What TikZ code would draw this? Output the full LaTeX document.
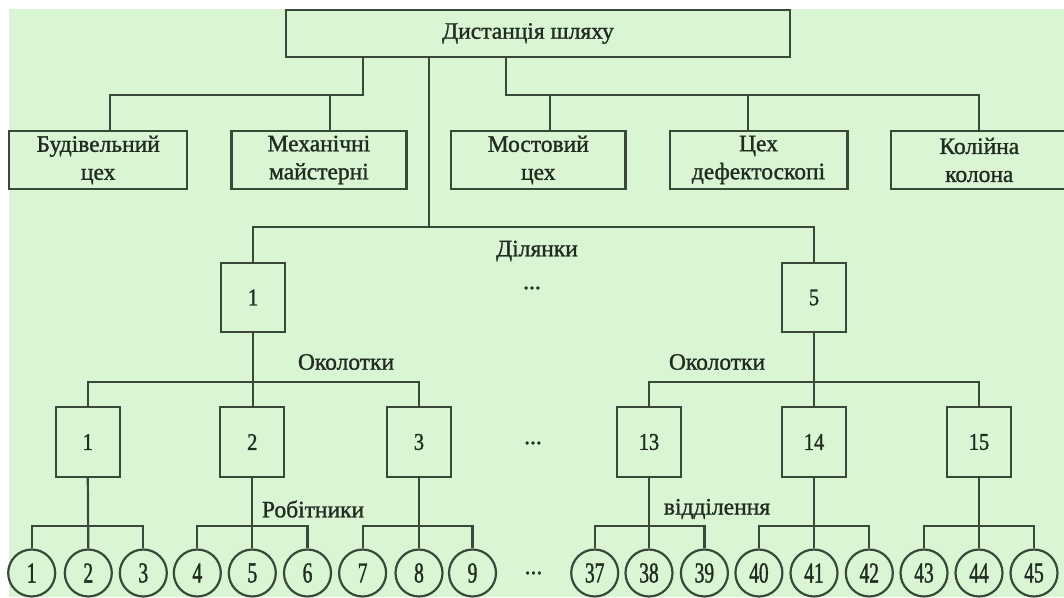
\documentclass[tikz,border=0pt]{standalone}
\usepackage{fontspec}
\setmainfont{Liberation Serif}[FakeBold=1.2]
\newfontfamily\cfont{Liberation Serif}[FakeStretch=0.67,FakeBold=1.2]
\newfontfamily\bfontn{Liberation Serif}[FakeStretch=0.85,FakeBold=1.2]
\definecolor{bg}{RGB}{217,245,212}
\definecolor{ln}{RGB}{58,72,58}
\definecolor{tx}{RGB}{32,44,32}
\tikzset{
  conn/.style={draw=ln, line width=2.2pt},
  wbox/.style={draw=ln, line width=2.2pt, rectangle, inner sep=0pt, align=center,
     text=tx, font=\fontsize{23.5}{28}\selectfont, minimum height=58pt},
  sqbox/.style={draw=ln, line width=2.2pt, rectangle, inner sep=0pt,
     text=tx, font=\bfontn\fontsize{24}{26}\selectfont, minimum width=64pt, minimum height=70pt},
  cnode/.style={draw=ln, line width=2.2pt, circle, inner sep=0pt, minimum size=47pt,
     text=tx, font=\cfont\fontsize{29}{30}\selectfont},
  lbl/.style={inner sep=0pt, text=tx, font=\fontsize{23.5}{27}\selectfont}
}
\begin{document}
\begin{tikzpicture}[x=1pt,y=-1pt]
\useasboundingbox (0,0) rectangle (1064,597);
\fill[white] (0,0) rectangle (1064,597);
\fill[bg] (9.3,9.3) rectangle (1064,597);

% top
\node[wbox, minimum width=504.5pt, minimum height=47pt] (top) at (538,33.5) {\hspace*{-20pt}Дистанція шляху};
% row 2
\node[wbox, minimum width=177.7pt] (bud) at (98.2,160) {Будівельний\\цех};
\node[wbox, minimum width=175pt] (mech) at (318.9,160) {Механічні\\майстерні};
\node[wbox, minimum width=174.3pt] (most) at (538.3,160) {Мостовий\\цех};
\node[wbox, minimum width=177.8pt] (cex) at (758.5,160) {Цех\\дефектоскопі};
\node[wbox, minimum width=177.3pt] (kol) at (979.3,160) {Колійна\\колона};

\coordinate (jL) at (362.6,95);
\coordinate (jR) at (506.2,95);
\coordinate (jC) at (428.7,227);
\draw[conn] (top.south -| jL) -- (jL) -| ([xshift=12pt]bud.north);
\draw[conn] (jL) -| ([xshift=11pt]mech.north);
\draw[conn] (top.south -| jR) -- (jR) -| ([xshift=12pt]most.north);
\draw[conn] (jR) -| ([xshift=-10.2pt]cex.north);
\draw[conn] (jR) -| (kol.north);
\draw[conn] (top.south -| jC) -- (jC);

% sections
\node[sqbox, minimum height=69pt] (d1) at (253,297.5) {1};
\node[sqbox, minimum height=69pt] (d5) at (814,297.5) {5};
\draw[conn] (jC) -| (d1.north);
\draw[conn] (jC) -| (d5.north);
\node[lbl] (lDil) at (537,251) {Ділянки};
\node[lbl] (lDots1) at (532,288) {...};

% okolotky
\node[sqbox] (o1) at (87.8,442) {1};
\node[sqbox] (o2) at (252.3,442) {2};
\node[sqbox] (o3) at (419,442) {3};
\node[sqbox] (o13) at (649,442) {13};
\node[sqbox] (o14) at (814,442) {14};
\node[sqbox] (o15) at (979,442) {15};
\coordinate (bOk) at (0,382);
\draw[conn] (d1.south) -- (d1.south |- o2.north);
\draw[conn] (o1.north) -- (o1.north |- bOk) -- (o3.north |- bOk) -- (o3.north);
\draw[conn] (d5.south) -- (o14.north);
\draw[conn] (o13.north) -- (o13.north |- bOk) -- (o15.north |- bOk) -- (o15.north);
\node[lbl] (lOk1) at (346,362) {Околотки};
\node[lbl] (lOk2) at (717,362) {Околотки};
\node[lbl] (lDots2) at (533,443) {...};

% workers
\foreach \n/\x in {1/31.7,2/88.3,3/143.3,4/197.3,5/252.3,6/307.5,7/362.6,8/419,9/472.5,
                   37/594.7,38/649,39/704.4,40/758.9,41/814,42/869.3,43/924,44/979,45/1034}
  \node[cnode] (c\n) at (\x,573) {\n};
\coordinate (bW) at (0,526);
\draw[conn] (o1.south) -- (c2.north);
\draw[conn] (c1.north) -- (c1.north |- bW) -- (c3.north |- bW) -- (c3.north);
\draw[conn] (o2.south) -- (c5.north);
\draw[conn] (c4.north) -- (c4.north |- bW) -- (c6.north |- bW) -- (c6.north);
\draw[conn] (o3.south) -- (c8.north);
\draw[conn] (c7.north) -- (c7.north |- bW) -- (c9.north |- bW) -- (c9.north);
\draw[conn] (o13.south) -- (c38.north);
\draw[conn] (c37.north) -- (c37.north |- bW) -- (c39.north |- bW) -- (c39.north);
\draw[conn] (o14.south) -- (c41.north);
\draw[conn] (c40.north) -- (c40.north |- bW) -- (c42.north |- bW) -- (c42.north);
\draw[conn] (o15.south) -- (c44.north);
\draw[conn] (c43.north) -- (c43.north |- bW) -- (c45.north |- bW) -- (c45.north);
\node[lbl] (lRob) at (313,509) {Робітники};
\node[lbl] (lVid) at (717,509) {відділення};
\node[lbl] (lDots3) at (533.5,573) {...};
\end{tikzpicture}
\end{document}
